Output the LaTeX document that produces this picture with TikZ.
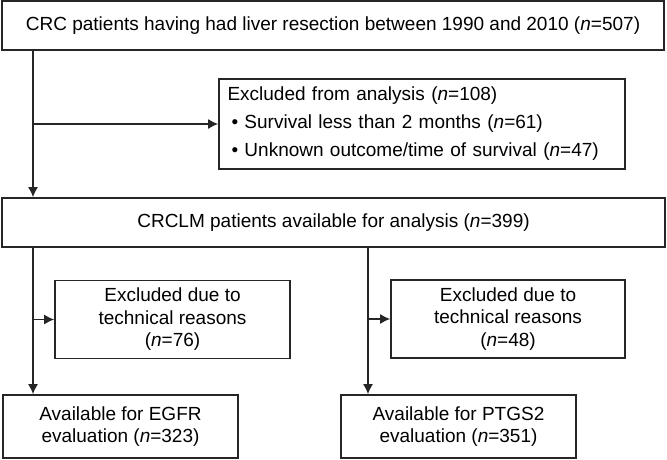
\documentclass[tikz,border=0pt]{standalone}
\usepackage{fontspec}
\setmainfont{Liberation Sans}
\usetikzlibrary{arrows.meta}
\begin{document}
\begin{tikzpicture}[x=1pt,y=-1pt,
  box/.style={draw=black!85,line width=1.6pt,inner sep=0pt,font=\fontsize{19}{22.5}\selectfont,align=center},
  arr/.style={line width=1.5pt,draw=black!85,-{Latex[length=10pt,width=10pt]}}]
\useasboundingbox (0,0) rectangle (667,459);
\node[box,minimum width=662pt,minimum height=49pt] (top) at (333,25.5)
  {CRC patients having had liver resection between 1990 and 2010 (\textit{n}=507)};
\node[box,minimum width=406pt,minimum height=90pt,text width=389pt,align=left,
  font=\fontsize{19}{28}\selectfont] (ex1) at (422,124)
  {Excluded from analysis (\textit{n}=108)\\
   \hspace*{4pt}\textbullet\ Survival less than 2 months (\textit{n}=61)\\
   \hspace*{4pt}\textbullet\ Unknown outcome/time of survival (\textit{n}=47)};
\node[box,minimum width=663pt,minimum height=49pt] (crclm) at (333.5,222.5)
  {CRCLM patients available for analysis (\textit{n}=399)};
\node[box,minimum width=235pt,minimum height=78pt] (exL) at (172.5,319.5)
  {Excluded due to\\technical reasons\\(\textit{n}=76)};
\node[box,minimum width=234pt,minimum height=78pt] (exR) at (508,319)
  {Excluded due to\\technical reasons\\(\textit{n}=48)};
\node[box,minimum width=235pt,minimum height=63pt] (botL) at (120.5,426.5)
  {Available for EGFR\\evaluation (\textit{n}=323)};
\node[box,minimum width=235pt,minimum height=63pt] (botR) at (458.5,426.5)
  {Available for PTGS2\\evaluation (\textit{n}=351)};
\coordinate (L) at (33,0);
\coordinate (R) at (368,0);
\draw[arr] (top.south -| L) -- (crclm.north -| L);
\draw[arr] (L |- ex1.west) -- (ex1.west);
\draw[arr] (crclm.south -| L) -- (botL.north -| L);
\draw[arr] (L |- exL.west) -- (exL.west);
\draw[arr] (crclm.south -| R) -- (botR.north -| R);
\draw[arr] (R |- exR.west) -- (exR.west);
\end{tikzpicture}
\end{document}
